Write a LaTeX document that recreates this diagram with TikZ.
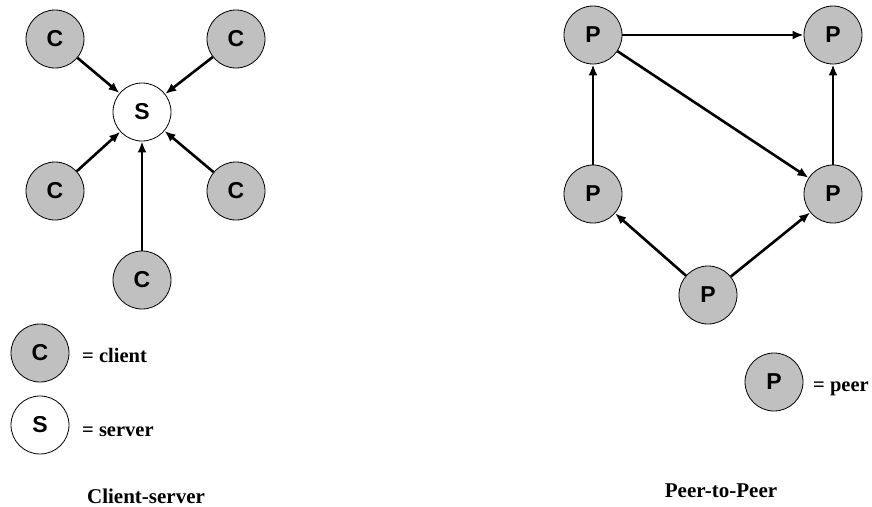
\documentclass[tikz,border=0pt]{standalone}
\usepackage{fontspec}
\setmainfont{Liberation Serif}
\newfontfamily\nodefont{Liberation Sans}
\usetikzlibrary{arrows.meta}
\definecolor{nodegray}{RGB}{192,192,192}
\tikzset{
  peer/.style={circle, draw=black, line width=0.8pt, fill=nodegray, minimum size=58pt, inner sep=0pt,
    font=\nodefont\bfseries\fontsize{23}{25}\selectfont},
  srv/.style={peer, fill=white},
  link/.style={line width=2.6pt, -{Latex[length=11pt,width=9pt]}},
  lbl/.style={font=\bfseries\fontsize{20.5}{22}\selectfont, anchor=base west, inner sep=0pt},
  ttl/.style={font=\bfseries\fontsize{21}{23}\selectfont, anchor=base, inner sep=0pt},
}
\begin{document}
\begin{tikzpicture}[x=1pt, y=-1pt]
\useasboundingbox (0,0) rectangle (872,506);
% Client-server
\node[srv]  (S)  at (142,112) {S};
\node[peer] (c1) at (55,39)   {C};
\node[peer] (c2) at (236,39)  {C};
\node[peer] (c3) at (55,191)  {C};
\node[peer] (c4) at (236,191) {C};
\node[peer] (c5) at (142,280) {C};
\foreach \c in {c1,c2,c3,c4,c5} \draw[link] (\c) -- (S);
% legend
\node[peer] (lc) at (40,353) {C};
\node[lbl]  (lct) at (82,362) {= client};
\node[srv]  (ls) at (40,425) {S};
\node[lbl]  (lst) at (82,436) {= server};
\node[ttl]  (t1) at (146,503) {Client-server};
% Peer-to-peer
\node[peer] (p1) at (593,35)  {P};
\node[peer] (p2) at (833,35)  {P};
\node[peer] (p3) at (593,194) {P};
\node[peer] (p4) at (833,194) {P};
\node[peer] (p5) at (708,295) {P};
\draw[link] (p1) -- (p2);
\draw[link] (p1) -- (p4);
\draw[link] (p3) -- (p1);
\draw[link] (p4) -- (p2);
\draw[link] (p5) -- (p3);
\draw[link] (p5) -- (p4);
\node[peer] (lp) at (774,382) {P};
\node[lbl]  (lpt) at (813,391) {= peer};
\node[ttl]  (t2) at (721,497) {Peer-to-Peer};
\end{tikzpicture}
\end{document}
